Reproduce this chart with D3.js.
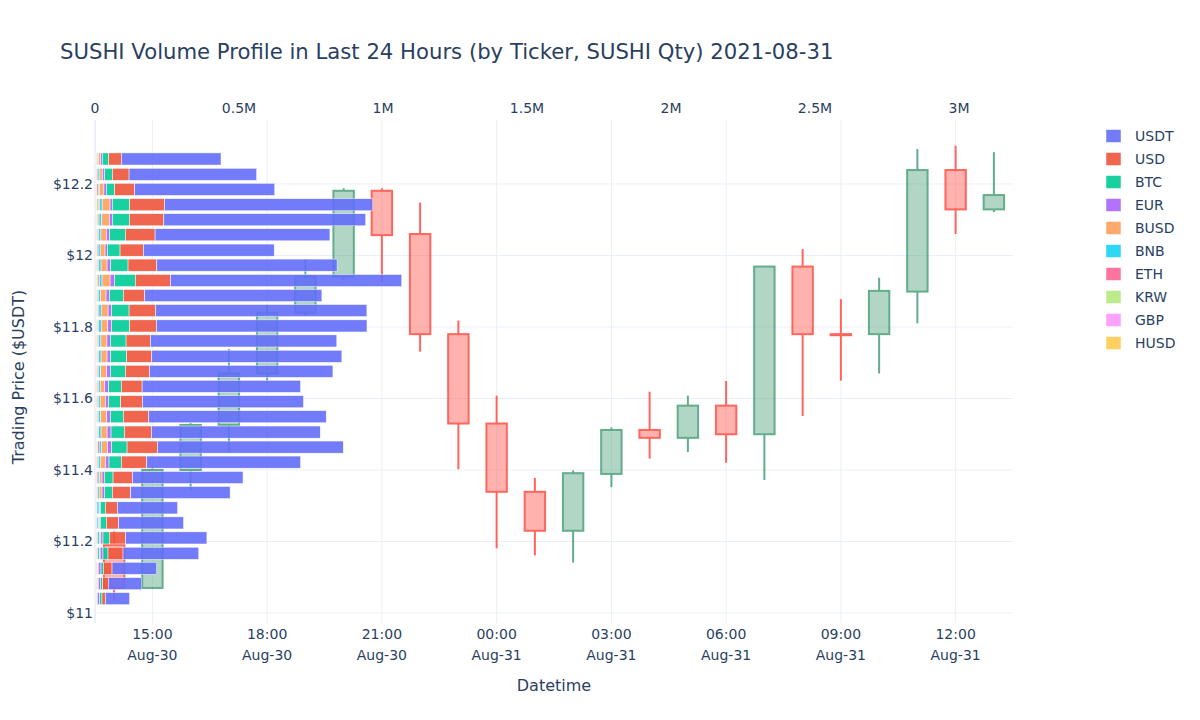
<!DOCTYPE html>
<html>
<head>
<meta charset="utf-8">
<script src="https://cdn.jsdelivr.net/npm/d3@7/dist/d3.min.js"></script>
<style>
  html, body { margin: 0; padding: 0; background: #fff; }
  svg text { font-family: "DejaVu Sans", Verdana, sans-serif; fill: #2a3f5f; }
</style>
</head>
<body>
<svg id="chart" width="1200" height="720"></svg>
<script>
// ---------------- DATA ----------------
const hours = [
  "2021-08-30T14:00","2021-08-30T15:00","2021-08-30T16:00","2021-08-30T17:00",
  "2021-08-30T18:00","2021-08-30T19:00","2021-08-30T20:00","2021-08-30T21:00",
  "2021-08-30T22:00","2021-08-30T23:00","2021-08-31T00:00","2021-08-31T01:00",
  "2021-08-31T02:00","2021-08-31T03:00","2021-08-31T04:00","2021-08-31T05:00",
  "2021-08-31T06:00","2021-08-31T07:00","2021-08-31T08:00","2021-08-31T09:00",
  "2021-08-31T10:00","2021-08-31T11:00","2021-08-31T12:00","2021-08-31T13:00"
];
const openP  = [11.190,11.070,11.400,11.526,11.670,11.840,11.941,12.181,12.060,11.780,11.530,11.339,11.230,11.389,11.512,11.490,11.580,11.500,11.969,11.780,11.780,11.899,12.239,12.129];
const highP  = [11.229,11.406,11.531,11.738,11.862,11.990,12.188,12.188,12.148,11.818,11.608,11.378,11.399,11.519,11.619,11.608,11.649,11.971,12.018,11.878,11.938,12.298,12.307,12.289];
const lowP   = [11.034,11.067,11.344,11.451,11.643,11.832,11.931,11.926,11.731,11.402,11.181,11.161,11.141,11.352,11.432,11.450,11.420,11.372,11.551,11.650,11.670,11.810,12.060,12.121];
const closeP = [11.070,11.400,11.526,11.670,11.840,11.941,12.181,12.057,11.780,11.530,11.339,11.230,11.391,11.512,11.490,11.580,11.500,11.969,11.780,11.777,11.901,12.239,12.129,12.169];

// price levels of the volume profile (top to bottom)
const priceLevels = [12.270,12.227,12.185,12.142,12.100,12.058,12.015,11.973,11.930,11.888,
                     11.846,11.803,11.761,11.718,11.676,11.634,11.591,11.549,11.506,11.464,
                     11.422,11.379,11.337,11.294,11.252,11.210,11.167,11.125,11.082,11.040];
const binHeight = 0.0424;

// SUSHI quantity per ticker at each level (same order as priceLevels)
const volUSDT = [346000,443000,486000,723000,701000,607000,454000,626000,803000,615000,733000,731000,647000,660000,637000,550000,559000,616000,586000,645000,534000,384000,345000,209000,225000,282000,263000,155000,116000,84000];
const volUSD  = [44000,58000,69600,120600,119500,103200,81200,99800,121800,74200,92800,92800,84700,87000,83500,71900,75400,88200,94000,105600,88200,67300,63800,41800,42900,56800,52200,29000,19700,11600];
const volBTC  = [22000,26700,29000,60300,59200,54500,44100,60300,71900,47600,60300,62600,54500,55700,52200,44100,41800,45200,46400,53400,42900,30200,27800,17400,20900,22000,17400,9300,8100,8100];
const volEUR  = [5800,7600,8400,8000,10300,11500,7900,12500,15900,12500,12500,13500,11900,12500,12900,13600,11600,12400,13700,14500,12200,8000,8000,2600,2600,7300,9800,9400,7100,8200];
const volBUSD = [8000,9000,16000,27500,27000,19000,17000,21000,28000,20000,24000,23000,21000,21000,21000,16000,18000,21000,21000,21000,18000,8000,10000,2000,3000,5000,3000,2000,2000,1000];
const volBNB  = [2000,6500,3500,8000,9000,8000,7000,8000,9000,7000,8000,8500,8000,8000,8000,6000,6500,8000,8000,8000,7000,6000,5000,7000,6000,7000,5500,2000,2000,1000];
const volETH  = [3500,3500,4500,5000,3500,4000,3500,4500,5000,3000,4000,4000,4000,4000,3500,4000,3500,3500,4000,5000,3500,4000,3000,2000,2000,2500,3000,2000,2000,1500];
const volKRW  = [3500,3500,3000,6300,5000,4000,3000,4000,5000,4000,4500,4000,4000,4000,3500,3500,3500,4000,4000,4000,3500,3000,3000,2500,2500,3000,3500,3000,3000,2000];
const volGBP  = [1500,2000,2200,3000,3000,2500,2500,2500,3000,2500,3000,3000,2500,3000,2500,2500,2500,2500,3000,3000,2500,2000,2000,1500,1500,1800,1800,1500,1500,1500];
const volHUSD = [1200,1500,1800,2500,2500,2000,2000,2000,2500,2000,2000,2000,2000,2000,2000,2000,2000,2000,2000,2500,2000,1500,1500,1000,1000,1200,1200,1000,1000,1000];

const tickers   = ["USDT","USD","BTC","EUR","BUSD","BNB","ETH","KRW","GBP","HUSD"];
const tickerVol = [volUSDT,volUSD,volBTC,volEUR,volBUSD,volBNB,volETH,volKRW,volGBP,volHUSD];
const tickerColors = ["#636efa","#EF553B","#00cc96","#ab63fa","#FFA15A","#19d3f3","#FF6692","#B6E880","#FF97FF","#FECB52"];

const priceTicks = [11, 11.2, 11.4, 11.6, 11.8, 12, 12.2];
const volTicks   = [0, 500000, 1000000, 1500000, 2000000, 2500000, 3000000];
const volTickLabels = ["0","0.5M","1M","1.5M","2M","2.5M","3M"];
const timeTicks  = ["2021-08-30T15:00","2021-08-30T18:00","2021-08-30T21:00","2021-08-31T00:00",
                    "2021-08-31T03:00","2021-08-31T06:00","2021-08-31T09:00","2021-08-31T12:00"];

const titleText = "SUSHI Volume Profile in Last 24 Hours (by Ticker, SUSHI Qty) 2021-08-31";

// ---------------- LAYOUT ----------------
const svg = d3.select("#chart");
const L = 95, R = 1013, T = 120, B = 623;
const parse = d3.timeParse("%Y-%m-%dT%H:%M");

const x = d3.scaleTime()
  .domain([parse("2021-08-30T13:30"), parse("2021-08-31T13:30")])
  .range([L, R]);
const xv = d3.scaleLinear().domain([0, 3187500]).range([L, R]);
const y = d3.scaleLinear().domain([10.972, 12.379]).range([B, T]);

const grid = "#ebf0f8";
svg.append("g").selectAll("line").data(priceTicks).join("line")
  .attr("x1", L).attr("x2", R)
  .attr("y1", d => y(d)).attr("y2", d => y(d))
  .attr("stroke", grid).attr("stroke-width", 1);
svg.append("g").selectAll("line").data(timeTicks).join("line")
  .attr("x1", d => x(parse(d))).attr("x2", d => x(parse(d)))
  .attr("y1", T).attr("y2", B)
  .attr("stroke", grid).attr("stroke-width", 1);
svg.append("line").attr("x1", xv(0)).attr("x2", xv(0)).attr("y1", T).attr("y2", B)
  .attr("stroke", grid).attr("stroke-width", 2);

// ---------------- CANDLES ----------------
const candles = hours.map((h, i) => ({ t: parse(h), o: openP[i], h: highP[i], l: lowP[i], c: closeP[i] }));
const halfW = 16 * 60 * 1000;
const cg = svg.append("g").attr("opacity", 0.8);
candles.forEach(d => {
  const up = d.c >= d.o;
  const col = up ? "#3D9970" : "#FF4136";
  const fill = up ? "rgba(61,153,112,0.5)" : "rgba(255,65,54,0.5)";
  const xc = x(d.t);
  const top = Math.max(d.o, d.c), bot = Math.min(d.o, d.c);
  const g = cg.append("g");
  g.append("line").attr("x1", xc).attr("x2", xc).attr("y1", y(d.h)).attr("y2", y(top))
    .attr("stroke", col).attr("stroke-width", 2);
  g.append("line").attr("x1", xc).attr("x2", xc).attr("y1", y(bot)).attr("y2", y(d.l))
    .attr("stroke", col).attr("stroke-width", 2);
  g.append("rect")
    .attr("x", x(new Date(+d.t - halfW)))
    .attr("width", x(new Date(+d.t + halfW)) - x(new Date(+d.t - halfW)))
    .attr("y", y(top))
    .attr("height", Math.max(0.01, y(bot) - y(top)))
    .attr("fill", fill).attr("stroke", col).attr("stroke-width", 2);
});

// ---------------- VOLUME PROFILE BARS ----------------
const stackOrder = ["HUSD","GBP","KRW","ETH","BNB","BUSD","EUR","BTC","USD","USDT"];
const rows = priceLevels.map((p, i) => {
  const r = { price: p };
  tickers.forEach((tk, k) => r[tk] = tickerVol[k][i]);
  return r;
});
const stacked = d3.stack().keys(stackOrder)(rows);
const bh = Math.abs(y(0) - y(binHeight * 0.8));
const bg = svg.append("g").attr("opacity", 0.9);
stacked.forEach(layer => {
  const col = tickerColors[tickers.indexOf(layer.key)];
  bg.append("g").selectAll("rect").data(layer).join("rect")
    .attr("x", d => xv(d[0]))
    .attr("width", d => Math.max(0, xv(d[1]) - xv(d[0])))
    .attr("y", d => y(d.data.price) - bh / 2)
    .attr("height", bh)
    .attr("fill", col)
    .attr("stroke", "#fff").attr("stroke-width", 0.5);
});

// ---------------- AXES ----------------
const fs = 14;
svg.append("g").selectAll("text").data(priceTicks).join("text")
  .attr("x", L - 2).attr("y", d => y(d)).attr("dy", "0.35em")
  .attr("text-anchor", "end").attr("font-size", fs)
  .text(d => "$" + d3.format("")(+d.toFixed(1)));
svg.append("g").selectAll("text").data(volTicks).join("text")
  .attr("x", d => xv(d)).attr("y", 108).attr("dy", "0.35em")
  .attr("text-anchor", "middle").attr("font-size", fs)
  .text((d, i) => volTickLabels[i]);
const fmtH = d3.timeFormat("%H:%M"), fmtD = d3.timeFormat("%b-%d");
const tg = svg.append("g").selectAll("g").data(timeTicks).join("g")
  .attr("transform", d => `translate(${x(parse(d))},0)`);
tg.append("text").attr("y", 634).attr("dy", "0.35em").attr("text-anchor", "middle")
  .attr("font-size", fs).text(d => fmtH(parse(d)));
tg.append("text").attr("y", 655).attr("dy", "0.35em").attr("text-anchor", "middle")
  .attr("font-size", fs).text(d => fmtD(parse(d)));

svg.append("text").attr("x", (L + R) / 2).attr("y", 685).attr("dy", "0.35em")
  .attr("text-anchor", "middle").attr("font-size", 16).text("Datetime");
svg.append("text")
  .attr("transform", `translate(18,377) rotate(-90)`)
  .attr("dy", "0.35em").attr("text-anchor", "middle").attr("font-size", 16)
  .text("Trading Price ($USDT)");

svg.append("text").attr("x", 60).attr("y", 52).attr("dy", "0.35em")
  .attr("font-size", 21.2).text(titleText);

// ---------------- LEGEND ----------------
const lg = svg.append("g").attr("transform", "translate(1106,136)");
const li = lg.selectAll("g").data(tickers).join("g")
  .attr("transform", (d, i) => `translate(0,${i * 23})`);
li.append("rect").attr("x", 0).attr("y", -6.5).attr("width", 15).attr("height", 13)
  .attr("fill", (d, i) => tickerColors[i]).attr("opacity", 0.9)
  .attr("stroke", "#fff").attr("stroke-width", 0.5);
li.append("text").attr("x", 29).attr("dy", "0.35em").attr("font-size", fs).text(d => d);
</script>
</body>
</html>
